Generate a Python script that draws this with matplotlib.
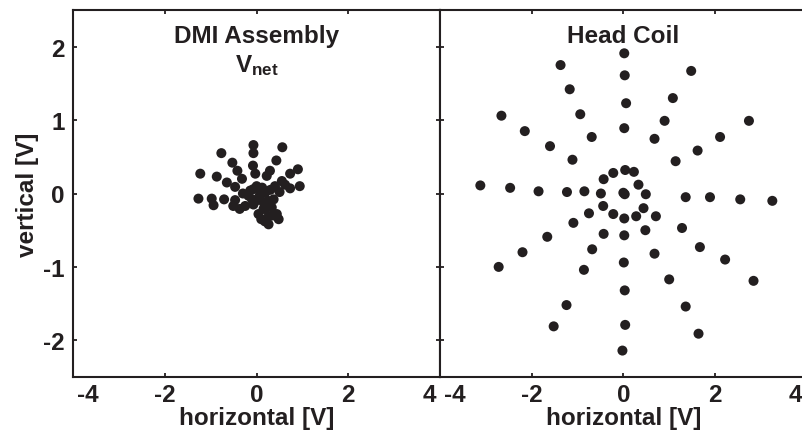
import numpy as np
import matplotlib
matplotlib.use('Agg')
import matplotlib.pyplot as plt
import matplotlib.transforms as mtransforms

plt.rcParams['font.family'] = ['Liberation Sans', 'DejaVu Sans']
plt.rcParams['font.weight'] = 'bold'
plt.rcParams['axes.unicode_minus'] = False
plt.rcParams['mathtext.fontset'] = 'custom'
plt.rcParams['mathtext.rm'] = 'Liberation Sans:bold'
plt.rcParams['mathtext.bf'] = 'Liberation Sans:bold'
plt.rcParams['mathtext.it'] = 'Liberation Sans:bold'

# DMI Assembly (V_net) points
dmi_x = [-0.07, -0.07, 0.56, -0.77, 0.43, -0.53, -0.08, -0.42, -1.23, -0.87,
         -0.03, 0.29, 0.22, -0.32, 0.90, 0.73, -0.65, 0.55, -0.47, 0.94,
         0.73, -1.27, -0.98, -0.94, -0.71, -0.47, -0.37, -0.14, 0.00, 0.50,
         0.37, -0.07, 0.08, -0.18, 0.15, -0.07, 0.04, 0.26, 0.44, 0.26,
         0.48, 0.15, 0.33, -0.25, -0.51, 0.19, 0.08, 0.20, -0.10, 0.30,
         0.10, 0.35, 0.05, 0.12, -0.02, 0.25, 0.40, 0.62, -0.30, 0.18]
dmi_y = [0.66, 0.55, 0.63, 0.55, 0.45, 0.42, 0.38, 0.31, 0.27, 0.23,
         0.27, 0.31, 0.24, 0.20, 0.33, 0.27, 0.15, 0.17, 0.09, 0.10,
         0.07, -0.07, -0.07, -0.16, -0.08, -0.09, -0.21, 0.04, 0.10, 0.02,
         -0.08, 0.06, -0.03, -0.03, -0.12, -0.15, -0.28, -0.31, -0.28, -0.42,
         -0.35, -0.21, -0.19, -0.17, -0.17, -0.21, 0.00, 0.02, -0.08, 0.05,
         -0.35, -0.30, -0.05, 0.08, -0.10, -0.10, 0.10, 0.12, 0.00, -0.38]

# Head Coil points
coil_x = [0.02, -1.37, 1.48, 0.03, -1.17, 1.08, 0.06, -2.66, -0.94, 2.74,
          0.90, -2.15, 0.02, -0.69, 0.68, 2.11, -1.60, 1.62, -1.11, 1.14,
          0.04, -0.22, 0.23, -0.43, 0.33, -3.12, -2.47, -1.85, -1.23, -0.85,
          -0.49, 0.00, 0.03, 0.49, 1.36, 1.89, 2.55, 3.25, -0.75, -0.44,
          -0.22, 0.02, 0.28, 0.44, 0.71, -1.09, -1.66, -0.43, 0.02, 0.48,
          1.28, -2.20, -0.68, 0.68, 1.67, -2.72, 0.01, -0.86, 2.22, 1.00,
          2.84, 0.03, -1.24, 1.36, -1.52, 0.04, 1.64, -0.02]
coil_y = [1.91, 1.75, 1.67, 1.61, 1.42, 1.30, 1.23, 1.06, 1.08, 0.99,
          0.99, 0.85, 0.89, 0.77, 0.745, 0.77, 0.645, 0.585, 0.46, 0.44,
          0.32, 0.28, 0.295, 0.195, 0.12, 0.11, 0.077, 0.03, 0.02, 0.03,
          0.00, 0.01, -0.01, -0.01, -0.05, -0.05, -0.08, -0.10, -0.27, -0.17,
          -0.28, -0.34, -0.31, -0.20, -0.31, -0.40, -0.59, -0.55, -0.57, -0.50,
          -0.47, -0.80, -0.76, -0.82, -0.73, -1.00, -0.94, -1.04, -0.90, -1.17,
          -1.19, -1.32, -1.52, -1.54, -1.81, -1.79, -1.91, -2.14]

ink = '#231f20'
fs = 17.5

fig = plt.figure(figsize=(8.02, 4.31), dpi=100)
ax1 = fig.add_axes([73.3 / 802, 53 / 431, 366.7 / 802, 367 / 431])
ax2 = fig.add_axes([440 / 802, 53 / 431, 366.7 / 802, 367 / 431])

for ax, xs, ys in [(ax1, dmi_x, dmi_y), (ax2, coil_x, coil_y)]:
    ax.scatter(xs, ys, s=52, color=ink, edgecolors='none', zorder=3)
    ax.set_xlim(-4, 4)
    ax.set_ylim(-2.5, 2.5)
    ax.set_xticks([-4, -2, 0, 2, 4])
    ax.set_yticks([-2, -1, 0, 1, 2])
    ax.tick_params(direction='in', length=3, width=1.3, color=ink,
                   top=True, right=True, labelsize=fs, labelcolor=ink)
    ax.tick_params(axis='x', pad=4.5)
    ax.tick_params(axis='y', pad=6)
    for sp in ax.spines.values():
        sp.set_linewidth(1.5)
        sp.set_color(ink)
    ax.set_xlabel('horizontal [V]', fontsize=fs, fontweight='bold', color=ink, labelpad=-0.5)
    # nudge end tick labels inward like the original
    labels = ax.get_xticklabels()
    off_l = mtransforms.ScaledTranslation(3 / 72, 0, fig.dpi_scale_trans)
    off_r = mtransforms.ScaledTranslation(-3 / 72, 0, fig.dpi_scale_trans)
    labels[0].set_horizontalalignment('left')
    labels[0].set_transform(labels[0].get_transform() + off_l)
    labels[-1].set_horizontalalignment('right')
    labels[-1].set_transform(labels[-1].get_transform() + off_r)

ax2.tick_params(labelleft=False)
ax1.set_ylabel('vertical [V]', fontsize=fs, fontweight='bold', color=ink, labelpad=3)

ax1.text(0.5, 0.913, 'DMI Assembly', transform=ax1.transAxes, ha='center',
         va='baseline', fontsize=fs, fontweight='bold', color=ink)
ax1.text(0.5, 0.834, r'$\mathbf{V_{net}}$', transform=ax1.transAxes, ha='center',
         va='baseline', fontsize=fs, color=ink)
ax2.text(0.5, 0.913, 'Head Coil', transform=ax2.transAxes, ha='center',
         va='baseline', fontsize=fs, fontweight='bold', color=ink)

fig.savefig('out.png', dpi=100)
